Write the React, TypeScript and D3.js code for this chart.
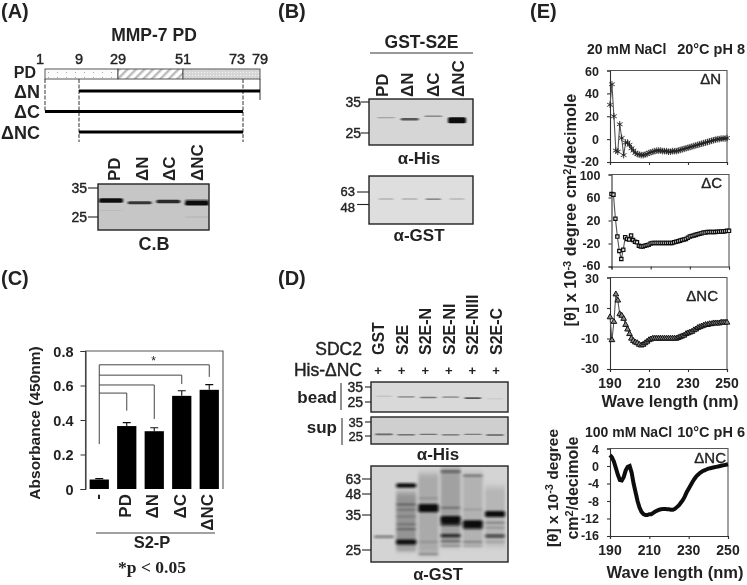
import React, { useEffect, useRef } from 'react';
import * as d3 from 'd3';

type Band = [string, number, number];
type Smear = [string, number, number, number];

// Panel A map
const residues = [1, 9, 29, 51, 73, 79];
const residueLabels = ['1', '9', '29', '51', '73', '79'];
const constructs: [string, number, number][] = [['ΔN', 9, 79], ['ΔC', 1, 73], ['ΔNC', 9, 73]];
const mapLanes = ['PD', 'ΔN', 'ΔC', 'ΔNC'];

// Panel A / B gels: [lane, molecular weight, band strength]
const gelABands: Band[] = [['PD', 30.3, 1], ['ΔN', 29.5, 0.8], ['ΔC', 29.9, 0.85], ['ΔNC', 29.3, 1], ['ΔNC', 30.3, 0.6], ['PD', 27, 0.08], ['ΔNC', 25, 0.1]];
const gelB1Bands: Band[] = [['PD', 29.5, 0.3], ['ΔN', 29, 0.65], ['ΔC', 30, 0.4], ['ΔNC', 28.7, 1.15]];
const gelB2Bands: Band[] = [['PD', 54, 0.3], ['ΔN', 54, 0.32], ['ΔC', 54, 0.5], ['ΔNC', 54, 0.28]];

// Panel C bars
const barCats = ['-', 'PD', 'ΔN', 'ΔC', 'ΔNC'];
const barValues = [0.055, 0.365, 0.335, 0.54, 0.575];
const barErrors = [0.005, 0.02, 0.02, 0.03, 0.03];
const barTicks = [0, 0.2, 0.4, 0.6, 0.8];
const bracketLevels = [0.556, 0.603, 0.66, 0.72];
const bracketEnds = [0.454, 0.406, 0.609, 0.65];

// Panel D gels
const sdcLanes = ['GST', 'S2E', 'S2E-N', 'S2E-NI', 'S2E-NIII', 'S2E-C'];
const gelD1Bands: Band[] = [['GST', 28.5, 0.2], ['S2E', 28, 0.45], ['S2E-N', 27.7, 0.5], ['S2E-NI', 27.9, 0.45], ['S2E-NIII', 27.3, 0.65], ['S2E-C', 26.8, 0.12]];
const gelD2Bands: Band[] = [['GST', 26, 0.55], ['S2E', 25.8, 0.5], ['S2E-N', 26, 0.5], ['S2E-NI', 25.7, 0.5], ['S2E-NIII', 26, 0.45], ['S2E-C', 25.6, 0.55]];
const gelD3Bands: Band[] = [
  ['GST', 28.4, 0.6],
  ['S2E', 56, 1], ['S2E', 41, 0.5], ['S2E', 38, 0.35], ['S2E', 34.5, 0.35], ['S2E', 32, 0.4], ['S2E', 30.5, 0.45], ['S2E', 27, 1.05], ['S2E', 25, 0.2],
  ['S2E-N', 45, 0.3], ['S2E-N', 39, 1.35], ['S2E-N', 37.5, 0.9], ['S2E-N', 27, 0.3], ['S2E-N', 24, 0.4],
  ['S2E-NI', 72, 0.6], ['S2E-NI', 39, 0.45], ['S2E-NI', 33.5, 1.3], ['S2E-NI', 32, 0.8], ['S2E-NI', 28.7, 0.85], ['S2E-NI', 27.2, 0.5], ['S2E-NI', 26, 0.4],
  ['S2E-NIII', 67, 0.5], ['S2E-NIII', 38, 0.25], ['S2E-NIII', 32.2, 1.3], ['S2E-NIII', 31, 0.8], ['S2E-NIII', 27, 0.4], ['S2E-NIII', 26, 0.3],
  ['S2E-C', 35.5, 1.2], ['S2E-C', 32.5, 0.4], ['S2E-C', 31, 0.3], ['S2E-C', 28.6, 0.75], ['S2E-C', 27, 0.25],
];
// Background staining: [lane, top weight, bottom weight, strength]
const gelD3Smears: Smear[] = [
  ['S2E', 50, 25, 0.3], ['S2E-N', 70, 24, 0.2], ['S2E-NI', 78, 26, 0.24], ['S2E-NIII', 70, 26, 0.16], ['S2E-C', 55, 26, 0.14],
];

// Panel E: one value per nm from 190 to 250
const wavelengths = d3.range(190, 251);
const cdN = [30, 48, 20, -10, -11, 13, 1, -14, -3, -3, -5, -8, -10, -12, -13, -13.5, -14, -14, -13.5, -13, -12, -11.5, -11, -10.5, -10, -10, -10, -10.5, -10.5, -10.5, -11, -11, -10.5, -10.5, -10.5, -10, -9.5, -9, -8.5, -8, -7.5, -7, -6.5, -6, -5.5, -5, -4.5, -4, -3.5, -3, -2.5, -2, -1.5, -1, -0.5, 0, 0, 0.5, 0.5, 0.5, 1];
const cdC = [66, 65, 23, -8, -33, -47, -31, -9, -12, -13, -6, -14, -17, -18, -24, -25, -25, -24, -23, -22, -20, -19, -19, -19, -19, -19, -19, -19, -19, -19, -19, -19, -18, -17, -16, -15, -14, -13, -12, -10, -8, -7, -6, -5, -4, -3, -2, -1, -1, 0, 0, 0, 0, 0, 0.5, 0.5, 1, 1, 1.5, 2, 2];
const cdNC = [4, -11, 1, 19, 15, 6, 5, 3, -1, -4, -7, -10, -11.5, -12.5, -13, -14, -14.5, -14, -13, -12, -11, -10.5, -10, -10, -10, -10, -10, -10, -10, -10, -10, -10, -10, -10, -10, -9.5, -9, -8.5, -8, -7, -6.5, -6, -5.5, -4.5, -4, -3, -2.5, -2, -1.5, -1, -1, -0.5, -0.5, 0, 0, 0, 0, 0.5, 0.5, 0.5, 0.5];
const cdNC2 = [2.5, 2, 1, -0.5, -2, -3.2, -3.3, -2.5, -1, -0.2, 0, -1.5, -4, -6, -8, -9.5, -10.5, -11, -11.2, -11.2, -11, -11, -10.7, -10.4, -10.2, -10, -9.9, -9.8, -9.8, -9.9, -9.9, -10, -10, -9.8, -9.4, -9, -8.4, -7.8, -7, -6, -5.2, -4.4, -3.6, -2.9, -2.3, -1.9, -1.5, -1.2, -1, -0.8, -0.6, -0.5, -0.4, -0.3, -0.2, -0.1, 0, 0.1, 0.2, 0.3, 0.4];
const xTicksE = [190, 210, 230, 250];

const sans = '"Liberation Sans", Arial, sans-serif';
const ink = '#222';

type Sel = d3.Selection<any, any, any, any>;

function label(g: Sel, x: number, y: number, s: string, size = 14, anchor = 'middle', rotate = false) {
  return g.append('text')
    .attr('transform', `translate(${x},${y})${rotate ? ' rotate(-90)' : ''}`)
    .attr('text-anchor', anchor)
    .attr('font-family', sans)
    .attr('font-weight', 700)
    .attr('font-size', size)
    .attr('fill', ink)
    .text(s);
}

// regular face thickened a little, closer to the blurred scan than true bold
function semi(t: Sel) {
  return t.attr('font-weight', 400).attr('stroke', ink).attr('stroke-width', 0.4);
}

function drawGel(g: Sel, opt: {
  x: [number, number]; y: [number, number]; fill: string; lanes: string[]; laneRange: [number, number];
  mw: number[]; mwY: number[]; bands: Band[]; smears?: Smear[]; laneWidth: number; thick: number;
  tickFrom: number; labelEnd: number; size?: number; wide?: boolean; labelY?: number[];
}) {
  const [x0, x1] = opt.x;
  const [y0, y1] = opt.y;
  const lane = d3.scalePoint<string>().domain(opt.lanes).range(opt.laneRange);
  const mwScale = d3.scaleLog().domain(opt.mw).range(opt.mwY);
  const clipId = `gel-${Math.round(x0)}-${Math.round(y0)}`;
  g.append('clipPath').attr('id', clipId).append('rect').attr('x', x0).attr('y', y0).attr('width', x1 - x0).attr('height', y1 - y0);
  g.append('rect').attr('x', x0).attr('y', y0).attr('width', x1 - x0).attr('height', y1 - y0).attr('fill', opt.fill);
  const inner = g.append('g').attr('clip-path', `url(#${clipId})`);
  if (opt.smears) {
    inner.append('g').attr('filter', 'url(#smearBlur)')
      .selectAll('rect').data(opt.smears).enter().append('rect')
      .attr('x', d => lane(d[0])! - opt.laneWidth / 2)
      .attr('width', opt.laneWidth)
      .attr('y', d => mwScale(d[1]))
      .attr('height', d => mwScale(d[2]) - mwScale(d[1]))
      .attr('fill', '#111')
      .attr('opacity', d => d[3]);
  }
  inner.append('g').attr('filter', opt.wide ? 'url(#bandBlurWide)' : 'url(#bandBlur)')
    .selectAll('rect').data(opt.bands).enter().append('rect')
    .attr('x', d => lane(d[0])! - opt.laneWidth / 2)
    .attr('width', opt.laneWidth)
    .attr('y', d => mwScale(d[1]) - (0.8 + opt.thick * d[2] * d[2]) / 2)
    .attr('height', d => 0.8 + opt.thick * d[2] * d[2])
    .attr('rx', 1.5)
    .attr('fill', '#111')
    .attr('opacity', d => Math.min(1, d[2]));
  g.append('rect').attr('x', x0).attr('y', y0).attr('width', x1 - x0).attr('height', y1 - y0)
    .attr('fill', 'none').attr('stroke', '#222').attr('stroke-width', 1.4);
  opt.mw.forEach((m, i) => {
    g.append('line').attr('x1', opt.tickFrom).attr('x2', x0).attr('y1', opt.mwY[i]).attr('y2', opt.mwY[i])
      .attr('stroke', '#222').attr('stroke-width', 1.1);
    semi(label(g, opt.labelEnd, (opt.labelY ?? opt.mwY)[i] + 5, String(m), opt.size ?? 14, 'end'));
  });
  return lane;
}

function drawCD(g: Sel, opt: {
  x: [number, number]; y: [number, number]; domain: [number, number]; ticks: number[]; values: number[];
  marker: 'star' | 'square' | 'triangle' | 'dot'; name: string; nameX: number; nameY: number; xLabels: boolean; size?: number;
}) {
  const x = d3.scaleLinear().domain([190, 250]).range(opt.x);
  const y = d3.scaleLinear().domain(opt.domain).range(opt.y);
  const frame = g.append('g');
  frame.append('path')
    .attr('d', `M${opt.x[0]},${opt.y[1]}H${opt.x[1]}V${opt.y[0]}`)
    .attr('fill', 'none').attr('stroke', '#555').attr('stroke-width', 1.1);
  const ax = frame.append('g').attr('transform', `translate(0,${opt.y[0]})`)
    .call(d3.axisBottom(x).tickValues(xTicksE).tickSize(3).tickFormat(() => ''));
  const ay = frame.append('g').attr('transform', `translate(${opt.x[0]},0)`)
    .call(d3.axisLeft(y).tickValues(opt.ticks).tickSize(3).tickFormat(() => ''));
  [ax, ay].forEach(a => a.selectAll('path, line').attr('stroke', '#333').attr('stroke-width', 1.1));
  // end labels pulled in by a pixel so stacked panels don't collide
  opt.ticks.forEach((t, i) => {
    const nudge = i === 0 ? 1 : i === opt.ticks.length - 1 ? -1 : 0;
    label(g, opt.x[0] - 11, y(t) + 4.5 + nudge, String(t), opt.size ?? 12.5, 'end');
  });
  if (opt.xLabels) xTicksE.forEach(t => label(g, x(t), opt.y[0] + 19, String(t), 14));

  const line = d3.line<number>().x((_, i) => x(wavelengths[i])).y(d => y(d));
  g.append('path').attr('d', line(opt.values))
    .attr('fill', 'none')
    .attr('stroke', opt.marker === 'dot' ? '#111' : '#555')
    .attr('stroke-width', opt.marker === 'dot' ? 4 : 1.1);

  const marks = g.append('g');
  const points = opt.values.map((v, i) => [x(wavelengths[i]), y(v)]);
  if (opt.marker === 'star') {
    const sym = d3.symbol().type(d3.symbolAsterisk).size(30);
    marks.selectAll('path').data(points).enter().append('path')
      .attr('transform', d => `translate(${d[0]},${d[1]})`).attr('d', sym())
      .attr('fill', 'none').attr('stroke', '#222').attr('stroke-width', 0.9);
  } else if (opt.marker === 'square') {
    const sym = d3.symbol().type(d3.symbolSquare).size(11);
    marks.selectAll('path').data(points).enter().append('path')
      .attr('transform', d => `translate(${d[0]},${d[1]})`).attr('d', sym())
      .attr('fill', '#ddd').attr('stroke', '#111').attr('stroke-width', 1.2);
  } else if (opt.marker === 'triangle') {
    const sym = d3.symbol().type(d3.symbolTriangle).size(14);
    marks.selectAll('path').data(points).enter().append('path')
      .attr('transform', d => `translate(${d[0]},${d[1]})`).attr('d', sym())
      .attr('fill', '#888').attr('stroke', '#111').attr('stroke-width', 1);
  }
  semi(label(g, opt.nameX, opt.nameY, opt.name, 15, 'end'));
}

export default function App() {
  const svgRef = useRef<SVGSVGElement>(null);

  useEffect(() => {
    if (!svgRef.current) return;
    const svg = d3.select(svgRef.current);
    svg.selectAll('*').remove();

    const defs = svg.append('defs');
    defs.append('filter').attr('id', 'bandBlur').attr('x', '-20%').attr('y', '-50%').attr('width', '140%').attr('height', '200%')
      .append('feGaussianBlur').attr('stdDeviation', '1.1 0.7');
    defs.append('filter').attr('id', 'bandBlurWide').attr('x', '-20%').attr('y', '-20%').attr('width', '140%').attr('height', '140%')
      .append('feGaussianBlur').attr('stdDeviation', '1.6 1.1');
    defs.append('filter').attr('id', 'smearBlur').attr('x', '-20%').attr('y', '-20%').attr('width', '140%').attr('height', '140%')
      .append('feGaussianBlur').attr('stdDeviation', '1.8 3');
    defs.append('filter').attr('id', 'soft').attr('x', '0').attr('y', '0').attr('width', '747').attr('height', '585')
      .attr('filterUnits', 'userSpaceOnUse')
      .append('feGaussianBlur').attr('stdDeviation', 0.55);
    const dots = defs.append('pattern').attr('id', 'sparse').attr('width', 9).attr('height', 5).attr('patternUnits', 'userSpaceOnUse');
    dots.append('rect').attr('width', 9).attr('height', 5).attr('fill', '#fbfbfb');
    dots.append('rect').attr('x', 3).attr('y', 2).attr('width', 1).attr('height', 1).attr('fill', '#aaa');
    const hatch = defs.append('pattern').attr('id', 'hatch').attr('width', 6).attr('height', 6).attr('patternUnits', 'userSpaceOnUse')
      .attr('patternTransform', 'rotate(45)');
    hatch.append('rect').attr('width', 6).attr('height', 6).attr('fill', '#fff');
    hatch.append('rect').attr('width', 2.4).attr('height', 6).attr('fill', '#bbb');
    const fine = defs.append('pattern').attr('id', 'fine').attr('width', 3).attr('height', 3).attr('patternUnits', 'userSpaceOnUse');
    fine.append('rect').attr('width', 3).attr('height', 3).attr('fill', '#d6d6d6');
    fine.append('rect').attr('width', 1).attr('height', 1).attr('fill', '#f2f2f2');

    const root = svg.append('g').attr('filter', 'url(#soft)');
    root.append('rect').attr('width', 747).attr('height', 585).attr('fill', '#fff');

    // Panel letters
    const letters: [string, number, number][] = [['(A)', 1, 18], ['(B)', 278, 18], ['(C)', 1, 285], ['(D)', 278, 285], ['(E)', 530, 18]];
    letters.forEach(([s, x, y]) => label(root, x, y, s, 20, 'start'));

    // (A) domain map
    const res = d3.scaleLinear().domain(residues).range([45, 79, 118, 183, 243, 260]);
    label(root, 154, 41, 'MMP-7 PD', 17.5);
    residues.forEach((r, i) => semi(label(root, res(r) + (r === 1 ? -5 : r === 73 ? -6 : 0), 63.5, residueLabels[i], 14.5)));
    const domains: [number, number, string][] = [[1, 29, 'url(#sparse)'], [29, 51, 'url(#hatch)'], [51, 79, 'url(#fine)']];
    domains.forEach(([a, b, f]) => {
      root.append('rect').attr('x', res(a)).attr('y', 69).attr('width', res(b) - res(a)).attr('height', 10)
        .attr('fill', f).attr('stroke', '#444').attr('stroke-width', 0.9);
    });
    [[1, 111], [9, 142], [73, 142]].forEach(([r, end]) => {
      root.append('line').attr('x1', res(r)).attr('x2', res(r)).attr('y1', 79).attr('y2', end)
        .attr('stroke', '#333').attr('stroke-width', 1).attr('stroke-dasharray', '4 1.5');
    });
    root.append('line').attr('x1', res(79)).attr('x2', res(79)).attr('y1', 79).attr('y2', 100).attr('stroke', '#333').attr('stroke-width', 1);
    label(root, 36, 78, 'PD', 16, 'end');
    const rowY = d3.scalePoint<string>().domain(constructs.map(c => c[0])).range([91, 132]);
    constructs.forEach(([name, a, b]) => {
      root.append('line').attr('x1', res(a)).attr('x2', res(b)).attr('y1', rowY(name)!).attr('y2', rowY(name)!).attr('stroke', '#000').attr('stroke-width', 3.2);
      label(root, 40, rowY(name)! + 6.5, name, 18, 'end');
    });

    // (A) gel
    drawGel(root, { x: [98, 209], y: [184, 230], fill: '#c6c6c6', lanes: mapLanes, laneRange: [111, 197], mw: [35, 25], mwY: [188, 217], bands: gelABands, laneWidth: 24, thick: 3.6, tickFrom: 88, labelEnd: 87 });
    const laneALabels = d3.scalePoint<string>().domain(mapLanes).range([114, 197]);
    mapLanes.forEach(l => label(root, laneALabels(l)! + 6, 181, l, 17, 'start', true));
    label(root, 154, 250, 'C.B', 18);

    // (B) gels
    drawGel(root, { x: [369, 473], y: [99, 145], fill: '#d6d6d6', lanes: mapLanes, laneRange: [386, 457], mw: [35, 25], mwY: [102, 133], bands: gelB1Bands, laneWidth: 18, thick: 4, tickFrom: 361, labelEnd: 361 });
    const laneBLabels = d3.scalePoint<string>().domain(mapLanes).range([382, 458]);
    mapLanes.forEach(l => label(root, laneBLabels(l)! + 6, 97, l, 17, 'start', true));
    label(root, 421.5, 48, 'GST-S2E', 17.5);
    root.append('line').attr('x1', 370).attr('x2', 473).attr('y1', 53).attr('y2', 53).attr('stroke', '#333').attr('stroke-width', 1);
    label(root, 419, 163.5, 'α-His', 17);
    drawGel(root, { x: [369, 473], y: [176, 224], fill: '#dedede', lanes: mapLanes, laneRange: [386, 457], mw: [63, 48], mwY: [192, 204.5], labelY: [191, 206.5], bands: gelB2Bands, laneWidth: 16, thick: 2, tickFrom: 357, labelEnd: 355, size: 13 });
    label(root, 419, 241, 'α-GST', 17);

    // (C) bars
    const x = d3.scaleBand().domain(barCats).range([85.5, 223]).paddingInner(0.3).paddingOuter(0.15);
    const y = d3.scaleLinear().domain([0, 0.8]).range([489, 351]);
    const bc = root.append('g');
    bc.append('path').attr('d', `M${x.range()[0]},${y(0)}V${y(0.8)}H${x.range()[1]}V${y(0)}`).attr('fill', 'none').attr('stroke', '#555').attr('stroke-width', 1.1);
    const ayC = bc.append('g').attr('transform', `translate(${x.range()[0]},0)`)
      .call(d3.axisLeft(y).tickValues(barTicks).tickSize(5).tickFormat(() => ''));
    ayC.selectAll('path, line').attr('stroke', '#333');
    barTicks.forEach(t => label(bc, 73.5, y(t) + 5.5, t === 0 ? '0' : d3.format('.1f')(t), 14.5, 'end'));
    bc.selectAll('rect.bar').data(barCats).enter().append('rect').attr('class', 'bar')
      .attr('x', d => x(d)!).attr('width', x.bandwidth())
      .attr('y', (_, i) => y(barValues[i])).attr('height', (_, i) => y(0) - y(barValues[i]))
      .attr('fill', '#000');
    barCats.forEach((c, i) => {
      const cx = x(c)! + x.bandwidth() / 2;
      bc.append('path').attr('d', `M${cx},${y(barValues[i])}V${y(barValues[i] + barErrors[i])}M${cx - 4},${y(barValues[i] + barErrors[i])}H${cx + 4}`)
        .attr('stroke', '#111').attr('stroke-width', 1.1).attr('fill', 'none');
      label(bc, cx + 4, 494, c, 17, 'end', true);
    });
    const startX = x('-')! + x.bandwidth() / 2;
    bc.append('line').attr('x1', startX).attr('x2', startX).attr('y1', y(0.26)).attr('y2', y(bracketLevels[3])).attr('stroke', '#444').attr('stroke-width', 1);
    barCats.slice(1).forEach((c, i) => {
      const cx = x(c)! + x.bandwidth() / 2;
      bc.append('path').attr('d', `M${startX},${y(bracketLevels[i])}H${cx}V${y(bracketEnds[i])}`).attr('fill', 'none').attr('stroke', '#444').attr('stroke-width', 1);
    });
    label(bc, 153.5, 365, '*', 12).attr('font-weight', 400);
    label(bc, 40, 423, 'Absorbance (450nm)', 15.5, 'middle', true);
    bc.append('line').attr('x1', 96).attr('x2', 215).attr('y1', 533).attr('y2', 533).attr('stroke', '#444').attr('stroke-width', 1.2);
    label(bc, 152, 548, 'S2-P', 16.5);
    label(bc, 152, 573, '*p < 0.05', 17.5).attr('font-family', '"Liberation Serif", serif');

    // (D) pull-down
    const laneRange: [number, number] = [384, 495];
    const laneD = d3.scalePoint<string>().domain(sdcLanes).range([378, 496]);
    sdcLanes.forEach(l => {
      label(root, laneD(l)! + 6, 355, l, 16, 'start', true);
      label(root, laneD(l)!, 375, '+', 13);
    });
    semi(label(root, 362, 355, 'SDC2', 17.5, 'end'));
    semi(label(root, 362, 376, 'His-ΔNC', 17.5, 'end'));
    drawGel(root, { x: [371, 508], y: [382, 412], fill: '#d9d9d9', lanes: sdcLanes, laneRange, mw: [35, 25], mwY: [387, 402], bands: gelD1Bands, laneWidth: 17, thick: 2.4, tickFrom: 365, labelEnd: 363 });
    drawGel(root, { x: [371, 508], y: [417, 444], fill: '#cfcfcf', lanes: sdcLanes, laneRange, mw: [35, 25], mwY: [422, 436], bands: gelD2Bands, laneWidth: 18, thick: 2.6, tickFrom: 365, labelEnd: 363, size: 13 });
    root.append('line').attr('x1', 341).attr('x2', 341).attr('y1', 383).attr('y2', 410).attr('stroke', '#222');
    root.append('line').attr('x1', 342).attr('x2', 342).attr('y1', 418).attr('y2', 445).attr('stroke', '#222');
    label(root, 337, 403, 'bead', 17, 'end');
    label(root, 337, 433, 'sup', 17, 'end');
    label(root, 438, 460, 'α-His', 17);
    drawGel(root, { x: [371, 508], y: [466, 562], fill: '#d4d4d4', lanes: sdcLanes, laneRange, mw: [63, 48, 35, 25], mwY: [479, 494, 515, 550], bands: gelD3Bands, smears: gelD3Smears, laneWidth: 20, thick: 3.6, tickFrom: 362, labelEnd: 361, wide: true });
    label(root, 438, 580, 'α-GST', 16.5);

    // (E) CD spectra
    label(root, 587, 54, '20 mM NaCl', 14, 'start');
    label(root, 745, 54, '20°C pH 8', 14.5, 'end');
    drawCD(root, { x: [610, 727], y: [162, 70.5], domain: [-20, 60], ticks: [60, 40, 20, 0, -20], values: cdN, marker: 'star', name: 'ΔN', nameX: 721, nameY: 84, xLabels: false });
    drawCD(root, { x: [611.5, 729], y: [266.5, 174.5], domain: [-60, 100], ticks: [100, 60, 20, -20, -60], values: cdC, marker: 'square', name: 'ΔC', nameX: 722, nameY: 188, xLabels: false });
    drawCD(root, { x: [610, 727], y: [369, 277.5], domain: [-30, 30], ticks: [30, 10, -10, -30], values: cdNC, marker: 'triangle', name: 'ΔNC', nameX: 718, nameY: 301, xLabels: true });
    const yLab = label(root, 576, 210, '', 16.3, 'middle', true);
    yLab.append('tspan').text('[θ]  x 10');
    yLab.append('tspan').attr('dy', -5).attr('font-size', 11).text('-3');
    yLab.append('tspan').attr('dy', 5).text(' degree cm');
    yLab.append('tspan').attr('dy', -5).attr('font-size', 11).text('2');
    yLab.append('tspan').attr('dy', 5).text('/decimole');
    label(root, 670, 407, 'Wave length (nm)', 16.5);

    label(root, 585, 437, '100 mM NaCl', 14, 'start');
    label(root, 745, 437, '10°C pH 6', 14.5, 'end');
    drawCD(root, { x: [610, 728], y: [536, 448.5], domain: [-16, 4], ticks: [4, 0, -4, -8, -12, -16], values: cdNC2, marker: 'dot', name: 'ΔNC', nameX: 726, nameY: 463, xLabels: true, size: 12.5 });
    const yLab2 = label(root, 558, 488, '', 15.5, 'middle', true);
    yLab2.append('tspan').text('[θ]  x 10');
    yLab2.append('tspan').attr('dy', -5).attr('font-size', 11).text('-3');
    yLab2.append('tspan').attr('dy', 5).text(' degree');
    const yLab3 = label(root, 578, 488, '', 16, 'middle', true);
    yLab3.append('tspan').text('cm');
    yLab3.append('tspan').attr('dy', -5).attr('font-size', 11).text('2');
    yLab3.append('tspan').attr('dy', 5).text('/decimole');
    label(root, 675, 578, 'Wave length (nm)', 16.5);
  }, []);

  return <svg ref={svgRef} width={747} height={585} style={{ position: 'absolute', left: 0, top: 0, background: '#fff' }} />;
}
